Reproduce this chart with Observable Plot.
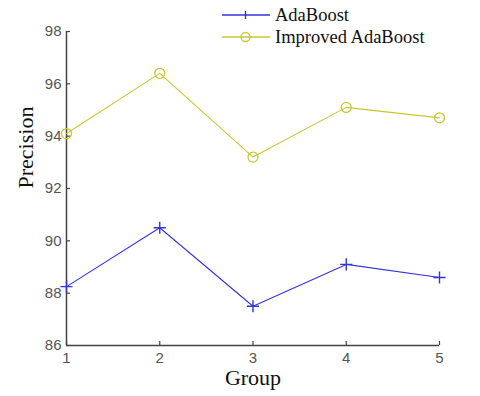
<!DOCTYPE html>
<html><head><meta charset="utf-8">
<script src="https://cdn.jsdelivr.net/npm/d3@7"></script>
<script src="https://cdn.jsdelivr.net/npm/@observablehq/plot@0.6"></script>
<style>
body{margin:0;background:#fff;}
#wrap{position:relative;width:480px;height:396px;}
#legend{position:absolute;left:222px;top:4px;font-family:"Liberation Serif","Times New Roman",serif;font-size:18.5px;color:#111;line-height:22px;}
#legend div{display:flex;align-items:center;}
#legend svg{margin-right:5px;}
</style>
</head><body>
<div id="wrap"><div id="legend"></div></div>
<script>
const groups = [1, 2, 3, 4, 5];
const adaBoost = [88.25, 90.5, 87.5, 89.1, 88.6];
const improved = [94.1, 96.4, 93.2, 95.1, 94.7];
const yTicks = [86, 88, 90, 92, 94, 96, 98];
const seriesNames = ["AdaBoost", "Improved AdaBoost"];
const colors = ["#3434dc", "#c8c832"];

const rows = [];
groups.forEach((g, i) => {
  rows.push({group: g, value: adaBoost[i], series: seriesNames[0]});
  rows.push({group: g, value: improved[i], series: seriesNames[1]});
});
const ada = rows.filter(d => d.series === seriesNames[0]);
const imp = rows.filter(d => d.series === seriesNames[1]);

const serif = "'Liberation Serif','Times New Roman',serif";
const chart = Plot.plot({
  width: 480, height: 396,
  marginLeft: 66, marginRight: 41, marginTop: 31, marginBottom: 51,
  style: {fontFamily: "'Liberation Sans', Arial, sans-serif", fontSize: "15px", color: "#555", background: "#fff"},
  x: {domain: [1, 5]},
  y: {domain: [86, 98]},
  marks: [
    Plot.axisX({ticks: groups, tickFormat: d3.format("d"), tickSize: -4, tickPadding: 11, stroke: "#444", strokeWidth: 1.2, label: null, fill: "#555"}),
    Plot.axisY({ticks: yTicks, tickSize: -4, tickPadding: 9, stroke: "#444", strokeWidth: 1.2, label: null, fill: "#555"}),
    Plot.ruleX([1], {stroke: "#444", strokeWidth: 1.5}),
    Plot.ruleY([86], {stroke: "#444", strokeWidth: 1.5}),
    Plot.line(ada, {x: "group", y: "value", stroke: colors[0], strokeWidth: 1.1}),
    Plot.dot(ada, {x: "group", y: "value", symbol: "plus", stroke: colors[0], r: 4, strokeWidth: 1.4}),
    Plot.line(imp, {x: "group", y: "value", stroke: colors[1], strokeWidth: 1.1}),
    Plot.dot(imp, {x: "group", y: "value", symbol: "circle", stroke: colors[1], fill: "none", r: 5, strokeWidth: 1.3}),
    Plot.text(["Group"], {frameAnchor: "bottom", dy: 39, fontFamily: serif, fontSize: 22, fill: "#111"}),
    Plot.text(["Precision"], {frameAnchor: "left", dx: -41, rotate: -90, fontFamily: serif, fontSize: 22, fill: "#111"})
  ]
});
document.getElementById("wrap").prepend(chart);

const legend = document.getElementById("legend");
seriesNames.forEach((name, i) => {
  const row = document.createElement("div");
  const sym = i === 0
    ? `<line x1="23.5" y1="4" x2="23.5" y2="12" stroke="${colors[i]}" stroke-width="1.4"/>`
    : `<circle cx="23.5" cy="8" r="4.5" fill="none" stroke="${colors[i]}" stroke-width="1.3"/>`;
  row.innerHTML = `<svg width="48" height="16"><line x1="0" y1="8" x2="48" y2="8" stroke="${colors[i]}" stroke-width="1.3"/>${sym}</svg><span>${name}</span>`;
  legend.appendChild(row);
});
</script>
</body></html>
